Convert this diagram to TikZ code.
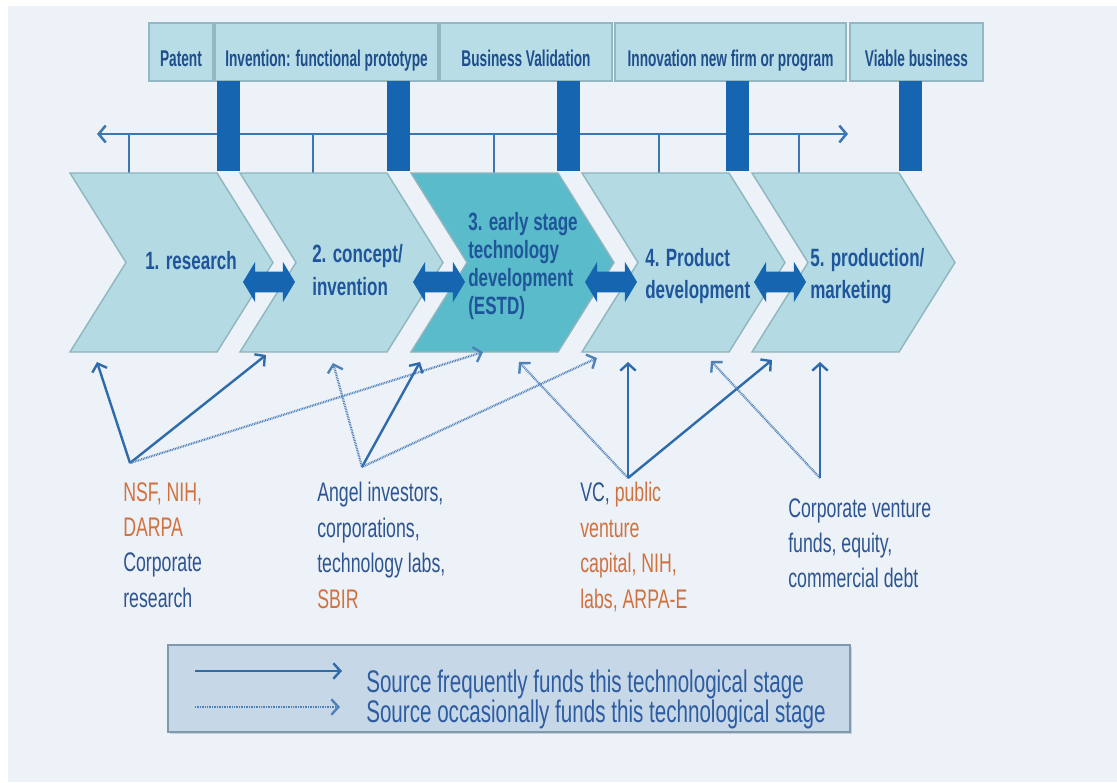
\documentclass[tikz,border=0pt]{standalone}
\usepackage{fontspec}
\setmainfont{Liberation Sans}[FakeStretch=0.66]
\newfontfamily\hdrfont{Liberation Sans}[FakeStretch=0.6]
\newfontfamily\stagefont{Liberation Sans}[FakeStretch=0.68]
\usetikzlibrary{arrows.meta,shapes.arrows,shadows}
\definecolor{bgcol}{HTML}{EDF1F8}
\definecolor{hdrfill}{HTML}{B8DDE7}
\definecolor{hdrline}{HTML}{94B8C3}
\definecolor{navy}{HTML}{1F4E8C}
\definecolor{barblue}{HTML}{1565B0}
\definecolor{tlblue}{HTML}{3D77B1}
\definecolor{chevlight}{HTML}{B4DBE4}
\definecolor{chevteal}{HTML}{5ABBCA}
\definecolor{chevline}{HTML}{8FB5BF}
\definecolor{stagetext}{HTML}{1E559B}
\definecolor{arrblue}{HTML}{2E6BAA}
\definecolor{srcorange}{HTML}{D0723F}
\definecolor{srcblue}{HTML}{2D5592}
\definecolor{legfill}{HTML}{C6D7E8}
\definecolor{legline}{HTML}{7F99AF}
\definecolor{legtext}{HTML}{2D5CA0}

\begin{document}
\begin{tikzpicture}
    [
        x=0.025cm, y=-0.025cm,
        header/.style = {draw=hdrline, fill=hdrfill, line width=0.8pt, minimum height=1.45cm, inner sep=0pt, text height=0.715cm, text depth=0pt, text=navy, font=\hdrfont\bfseries\fontsize{16.2}{19}\selectfont, drop shadow={opacity=0.25, shadow xshift=1pt, shadow yshift=-1pt}},
        chevron/.style = {draw=chevline, line width=1pt},
        stage/.style = {anchor=west, align=left, inner sep=0pt, text=stagetext, font=\stagefont\bfseries\fontsize{17.8}{23}\selectfont},
        swap/.style = {double arrow, fill=barblue, minimum height=1.3cm, inner sep=0.25cm, double arrow head extend=0.25cm, double arrow tip angle=118},
        source/.style = {anchor=north west, align=left, inner sep=0pt, text=srcblue, font=\fontsize{19.1}{25.2}\selectfont},
        often/.style = {draw=arrblue, line width=1.7pt, -{Straight Barb[length=5pt,width=11pt,line width=1.7pt]}},
        seldom/.style = {draw=arrblue!85, line width=1.6pt, dash pattern=on 0.6pt off 0.6pt, -{Straight Barb[length=5pt,width=11pt,line width=1.7pt]}},
        legendbox/.style = {draw=legline, fill=legfill, line width=1pt, minimum width=17.05cm, minimum height=2.175cm, drop shadow={opacity=0.3, shadow xshift=1.5pt, shadow yshift=-1.5pt}},
        legendtext/.style = {anchor=base west, inner sep=0pt, text=legtext, font=\fontsize{22.2}{24}\selectfont},
    ]

    \useasboundingbox (0,0) rectangle (1117,782);
    \fill[white] (0,0) rectangle (1117,782);
    \fill[bgcol] (8,6) rectangle (1117,782);

    \node[header, minimum width=1.6cm]   (patent)     at (181,52)   {Patent};
    \node[header, minimum width=5.575cm] (invention)  at (326.5,52) {Invention: functional prototype};
    \node[header, minimum width=4.3cm]   (validation) at (526,52)   {Business Validation};
    \node[header, minimum width=5.775cm] (innovation) at (730.5,52) {Innovation new firm or program};
    \node[header, minimum width=3.325cm] (viable)     at (916.5,52) {Viable business};

    \coordinate (tlstart) at (97,134);
    \coordinate (tlend)   at (848,134);
    \draw[tlblue, line width=1.9pt, {Straight Barb[length=5pt,width=12pt,line width=1.8pt]}-{Straight Barb[length=5pt,width=12pt,line width=1.8pt]}] (tlstart) -- (tlend);
    \foreach \x in {129,313,494,659,799}
        \draw[tlblue, line width=1.3pt] (\x,134) -- (\x,173);
    \foreach \x in {217,387,557,726,899}
        \fill[barblue] (\x,81) rectangle ++(23,90);

    \draw[chevron, fill=chevlight] (70,173)  -- ++(147,0) -- ++(56,89.5) -- ++(-56,89.5) -- ++(-147,0) -- ++(56,-89.5) -- cycle;
    \draw[chevron, fill=chevlight] (240,173) -- ++(147,0) -- ++(56,89.5) -- ++(-56,89.5) -- ++(-147,0) -- ++(56,-89.5) -- cycle;
    \draw[chevron, fill=chevteal]  (411,173) -- ++(147,0) -- ++(56,89.5) -- ++(-56,89.5) -- ++(-147,0) -- ++(56,-89.5) -- cycle;
    \draw[chevron, fill=chevlight] (582,173) -- ++(147,0) -- ++(56,89.5) -- ++(-56,89.5) -- ++(-147,0) -- ++(56,-89.5) -- cycle;
    \draw[chevron, fill=chevlight] (752,173) -- ++(147,0) -- ++(56,89.5) -- ++(-56,89.5) -- ++(-147,0) -- ++(56,-89.5) -- cycle;

    \node[stage] (research)   at (145,261) {1. research};
    \node[stage] (concept)    at (312,270) {2. concept/\\invention};
    \node[stage, font=\stagefont\bfseries\fontsize{17.8}{20}\selectfont] (estd) at (468,266) {3. early stage\\technology\\development\\(ESTD)};
    \node[stage] (product)    at (645,276) {4. Product\\development};
    \node[stage] (production) at (810,276) {5. production/\\marketing};

    \node[swap] (swapA) at (269,282) {};
    \node[swap] (swapB) at (439,282) {};
    \node[swap] (swapC) at (611,282) {};
    \node[swap] (swapD) at (780,282) {};

    \node[source] (nsf)   at (123,482) {\textcolor{srcorange}{NSF, NIH,}\\\textcolor{srcorange}{DARPA}\\Corporate\\research};
    \node[source] (angel) at (317,482) {Angel investors,\\corporations,\\technology labs,\\\textcolor{srcorange}{SBIR}};
    \node[source] (vc)    at (580,482) {VC, \textcolor{srcorange}{public}\\\textcolor{srcorange}{venture}\\\textcolor{srcorange}{capital, NIH,}\\\textcolor{srcorange}{labs, ARPA-E}};
    \node[source] (cvf)   at (788,498) {Corporate venture\\funds, equity,\\commercial debt};

    \coordinate (nsfhub)   at (130,463);
    \coordinate (angelhub) at (362,467);
    \coordinate (vchub)    at (628,478);
    \coordinate (cvfhub)   at (820,478);

    \coordinate (t1)  at (97,362);
    \coordinate (t2)  at (266,355);
    \coordinate (t3)  at (483,352);
    \coordinate (t4)  at (333,363);
    \coordinate (t5)  at (420,362);
    \coordinate (t6)  at (597,358);
    \coordinate (t7)  at (519,362);
    \coordinate (t8)  at (628,362);
    \coordinate (t9)  at (772,360);
    \coordinate (t10) at (711,361);
    \coordinate (t11) at (820,362);

    \draw[often]  (nsfhub) -- (t1);
    \draw[often]  (nsfhub) -- (t2);
    \draw[seldom] (nsfhub) -- (t3);
    \draw[seldom] (angelhub) -- (t4);
    \draw[often]  (angelhub) -- (t5);
    \draw[seldom] (angelhub) -- (t6);
    \draw[seldom] (vchub) -- (t7);
    \draw[often]  (vchub) -- (t8);
    \draw[often]  (vchub) -- (t9);
    \draw[seldom] (cvfhub) -- (t10);
    \draw[often]  (cvfhub) -- (t11);

    \node[legendbox] (legend) at (509,688.5) {};
    \coordinate (oftenstart)  at (195,671);
    \coordinate (oftenend)    at (342,671);
    \coordinate (seldomstart) at (195,707);
    \coordinate (seldomend)   at (340,707);
    \draw[often]  (oftenstart) -- (oftenend);
    \draw[seldom] (seldomstart) -- (seldomend);
    \node[legendtext] (oftentext)  at (366,692) {Source frequently funds this technological stage};
    \node[legendtext] (seldomtext) at (366,722) {Source occasionally funds this technological stage};

\end{tikzpicture}
\end{document}
